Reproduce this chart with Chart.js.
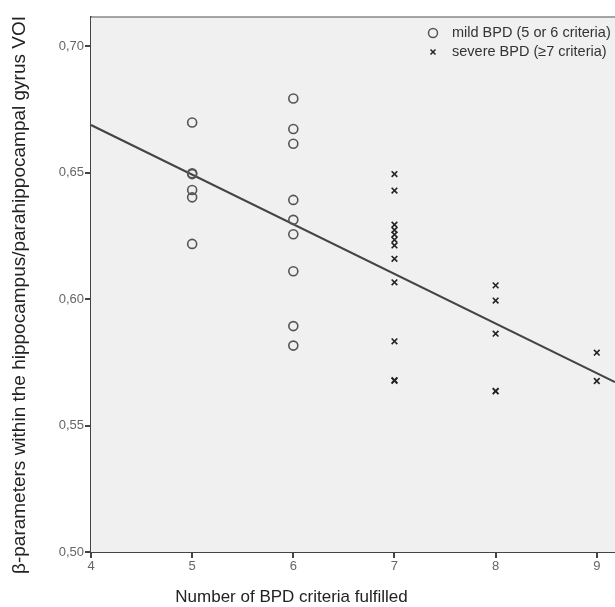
<!DOCTYPE html>
<html>
<head>
<meta charset="utf-8">
<script src="https://cdn.jsdelivr.net/npm/chart.js@4"></script>
<style>
  body { margin: 0; background: #fff; }
  canvas { display: block; }
</style>
</head>
<body>
<canvas id="c" width="615" height="607"></canvas>
<script>
// values
const mildCriteria = [5, 6];
const mildValues = [
  [0.6698, 0.6497, 0.6494, 0.6431, 0.6402, 0.6218],
  [0.6793, 0.6672, 0.6614, 0.6392, 0.6313, 0.6256, 0.6110, 0.5893, 0.5816]
];
const severeCriteria = [7, 8, 9];
const severeValues = [
  [0.6494, 0.6429, 0.6294, 0.6273, 0.6255, 0.6234, 0.6212, 0.6159, 0.6066, 0.5833, 0.5679, 0.5677],
  [0.6054, 0.5994, 0.5863, 0.5637, 0.5635],
  [0.5788, 0.5676]
];
const fitX = [4, 9.18];
const fitY = [0.6688, 0.5672];
const xTicks = [4, 5, 6, 7, 8, 9];
const yTicks = [0.50, 0.55, 0.60, 0.65, 0.70];

const legendLabels = ['mild BPD (5 or 6 criteria)', 'severe BPD (\u22657 criteria)'];
const xTitle = 'Number of BPD criteria fulfilled';
const yTitle = '\u03b2-parameters within the hippocampus/parahippocampal gyrus VOI';

function toPoints(cats, vals) {
  let pts = [];
  for (let i = 0; i < cats.length; i++) {
    for (let j = 0; j < vals[i].length; j++) {
      pts.push({ x: cats[i], y: vals[i][j] });
    }
  }
  return pts;
}

const font = '"Liberation Sans", Arial, sans-serif';

// gray plot area, top border, legend and axis titles
const decor = {
  id: 'decor',
  beforeDatasetsDraw(chart) {
    const ctx = chart.ctx, a = chart.chartArea;
    ctx.save();
    ctx.fillStyle = '#f0f0f0';
    ctx.fillRect(a.left, a.top, a.right - a.left, a.bottom - a.top);
    ctx.strokeStyle = '#888';
    ctx.lineWidth = 1.5;
    ctx.beginPath();
    ctx.moveTo(a.left, a.top);
    ctx.lineTo(a.right, a.top);
    ctx.stroke();
    ctx.restore();
  },
  afterDraw(chart) {
    const ctx = chart.ctx, a = chart.chartArea;
    ctx.save();
    // legend
    ctx.strokeStyle = '#555';
    ctx.lineWidth = 1.5;
    ctx.beginPath();
    ctx.arc(433, a.top + 16, 4.5, 0, Math.PI * 2);
    ctx.stroke();
    ctx.strokeStyle = '#222';
    ctx.beginPath();
    ctx.moveTo(430.5, a.top + 32.5); ctx.lineTo(435.5, a.top + 37.5);
    ctx.moveTo(435.5, a.top + 32.5); ctx.lineTo(430.5, a.top + 37.5);
    ctx.stroke();
    ctx.fillStyle = '#333';
    ctx.font = '14.5px ' + font;
    ctx.textBaseline = 'middle';
    ctx.textAlign = 'left';
    ctx.fillText(legendLabels[0], 452, a.top + 16);
    ctx.fillText(legendLabels[1], 452, a.top + 35);
    // axis titles
    ctx.fillStyle = '#222';
    ctx.textAlign = 'center';
    ctx.font = '17px ' + font;
    ctx.fillText(xTitle, 291.5, 597);
    ctx.translate(20, 295);
    ctx.rotate(-Math.PI / 2);
    ctx.font = '19px ' + font;
    ctx.fillText(yTitle, 0, 0);
    ctx.restore();
  }
};

new Chart(document.getElementById('c'), {
  type: 'scatter',
  data: {
    datasets: [
      {
        data: toPoints(mildCriteria, mildValues),
        pointStyle: 'circle',
        pointRadius: 4.5,
        pointHoverRadius: 4.5,
        pointBorderColor: '#555',
        pointBorderWidth: 1.6,
        pointBackgroundColor: 'rgba(0,0,0,0)',
        borderColor: '#555'
      },
      {
        data: toPoints(severeCriteria, severeValues),
        pointStyle: 'crossRot',
        pointRadius: 4,
        pointHoverRadius: 4,
        pointBorderColor: '#222',
        pointBorderWidth: 1.6,
        borderColor: '#222'
      },
      {
        data: fitX.map((x, i) => ({ x: x, y: fitY[i] })),
        showLine: true,
        pointRadius: 0,
        borderColor: '#444',
        borderWidth: 2
      }
    ]
  },
  options: {
    responsive: false,
    animation: false,
    devicePixelRatio: 1,
    layout: { autoPadding: false, padding: { top: 17, left: 0, right: 0, bottom: 0 } },
    plugins: {
      legend: { display: false },
      tooltip: { enabled: false }
    },
    scales: {
      x: {
        type: 'linear',
        min: 4,
        max: 9.18,
        afterBuildTicks: s => { s.ticks = xTicks.map(v => ({ value: v })); },
        afterFit: s => { s.height = 55; s.paddingLeft = 0; s.paddingRight = 0; },
        border: { color: '#444', width: 2 },
        grid: { drawOnChartArea: false, color: '#444', tickLength: 6, lineWidth: 2 },
        ticks: { color: '#666', font: { size: 13, family: font }, padding: 1, maxRotation: 0 }
      },
      y: {
        min: 0.5,
        max: 0.7115,
        afterBuildTicks: s => { s.ticks = yTicks.map(v => ({ value: v })); },
        afterFit: s => { s.width = 91; s.paddingTop = 0; s.paddingBottom = 0; },
        border: { color: '#444', width: 2 },
        grid: { drawOnChartArea: false, color: '#444', tickLength: 6, lineWidth: 2 },
        ticks: {
          color: '#666',
          font: { size: 13, family: font },
          padding: 1,
          callback: v => v.toFixed(2).replace('.', ',')
        }
      }
    }
  },
  plugins: [decor]
});
</script>
</body>
</html>
